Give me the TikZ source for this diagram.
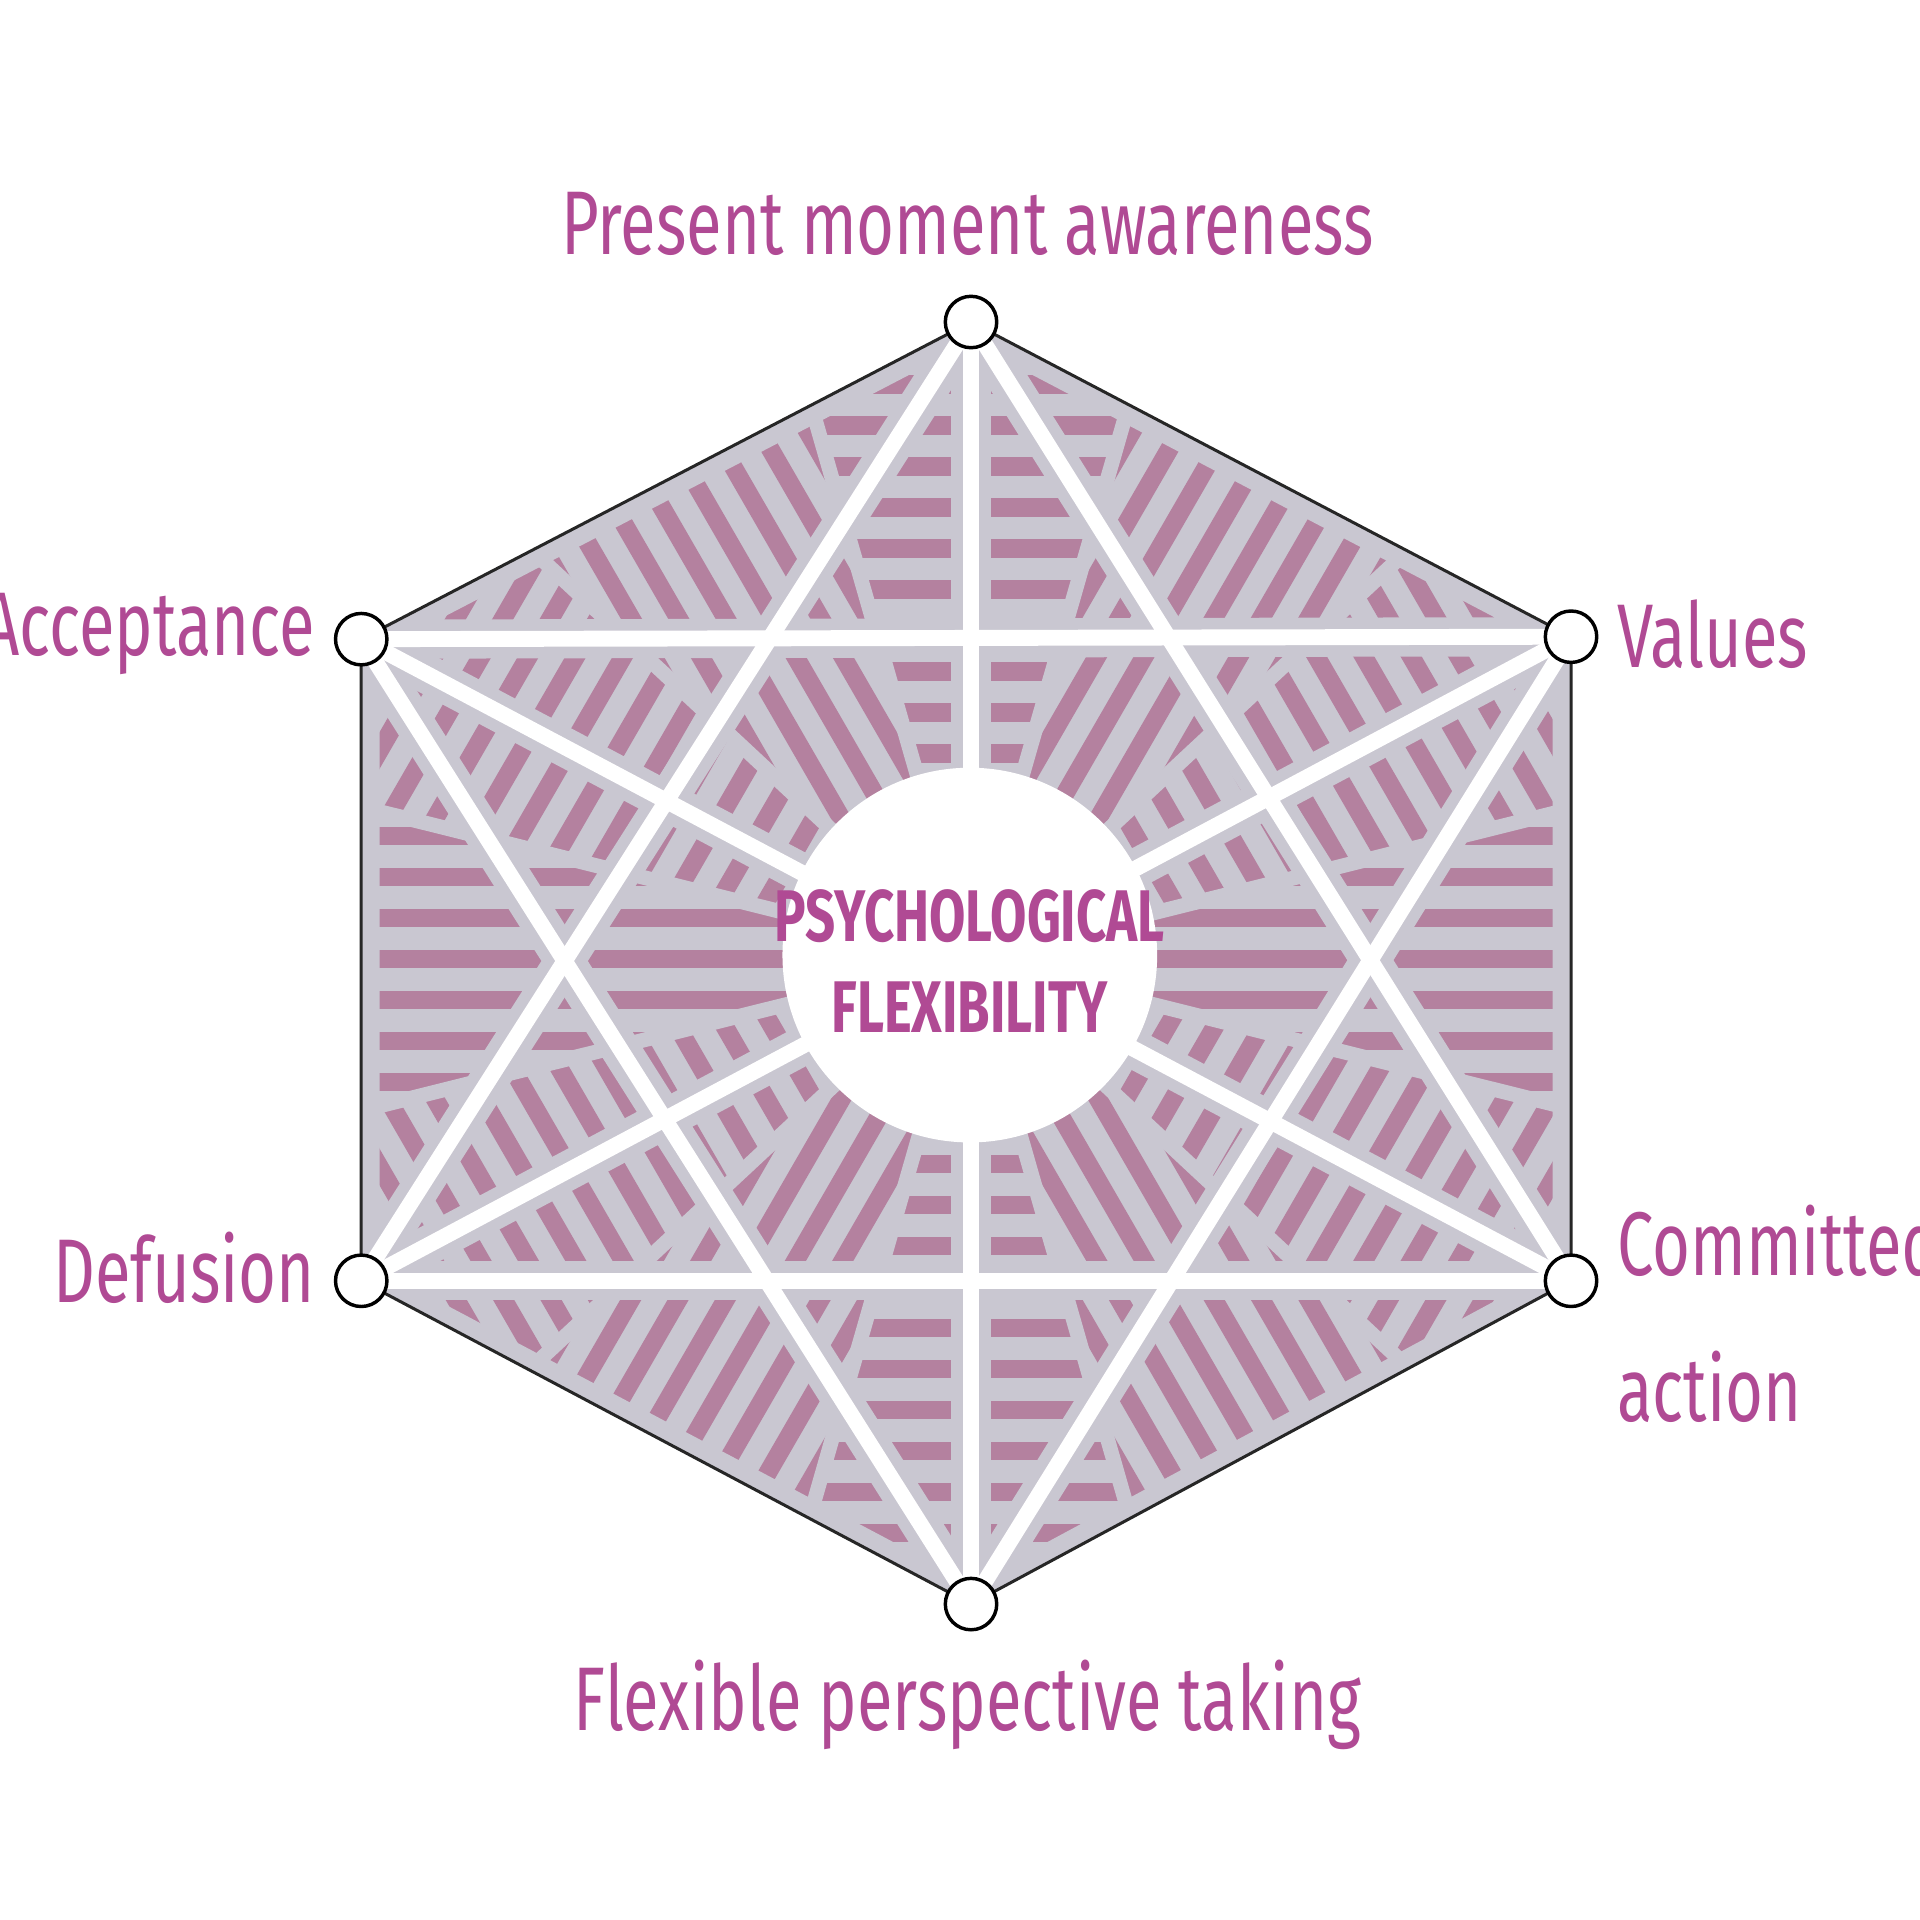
\documentclass[tikz,border=0pt]{standalone}
\usepackage{fontspec}
\setmainfont{Fira Sans}
\usepackage{graphicx}
\usetikzlibrary{calc}
\definecolor{hexgray}{HTML}{C9C7D1}
\definecolor{stripe}{HTML}{B4819F}
\definecolor{labelpink}{HTML}{B04A94}
\tikzset{
  vertexdot/.style={circle,draw=black,fill=white,line width=0.8pt,minimum size=0.42cm,inner sep=0pt},
  label text/.style={text=labelpink,font=\fontsize{21}{30}\selectfont,inner sep=0pt},
  whiteline/.style={white,line width=0.13cm,line cap=round},
  grayline/.style={hexgray,line width=0.32cm},
}
\newcommand{\lbl}[1]{\scalebox{0.72}[1]{#1}}
\begin{document}
\begin{tikzpicture}
  \useasboundingbox (0,0) rectangle (15.68,15.68);
  % hexagon corners
  \coordinate (C) at (7.92,7.85);
  \coordinate (T) at (7.93,13.05);
  \coordinate (UR) at (12.83,10.48);
  \coordinate (LR) at (12.83,5.22);
  \coordinate (B) at (7.93,2.58);
  \coordinate (LL) at (2.95,5.22);
  \coordinate (UL) at (2.95,10.46);
  \fill[hexgray] (T) -- (UR) -- (LR) -- (B) -- (LL) -- (UL) -- cycle;
  % striped wedges: start angle / end angle / stripe angle
  \foreach \a/\b/\r in {74/106/0,106/137/120,137/166/60,166/194/0,194/223/120,223/254/60,
                        254/286/0,286/317/120,317/346/60,346/374/0,14/43/120,43/74/60}{
    \begin{scope}
      \clip (T) -- (UR) -- (LR) -- (B) -- (LL) -- (UL) -- cycle;
      \clip (C) -- ($(C)+(\a:12)$) -- ($(C)+(\b:12)$) -- cycle;
      \begin{scope}[shift={(C)},rotate=\r]
        \foreach \k in {-30,...,30}
          \fill[stripe] (-12,\k*0.335-0.075) rectangle (12,\k*0.335+0.075);
      \end{scope}
    \end{scope}
  }
  % gray seams between wedges
  \begin{scope}
    \clip (T) -- (UR) -- (LR) -- (B) -- (LL) -- (UL) -- cycle;
    \foreach \a in {14,43,74,106,137,166,194,223,254,286,317,346}
      \draw[hexgray,line width=0.12cm] (C) -- ++(\a:12);
    \draw[hexgray,line width=0.3cm] (T) -- (UR) -- (LR) -- (B) -- (LL) -- (UL) -- cycle;
    % star lines
    \foreach \p/\q in {T/LL,LL/LR,LR/T,B/UL,UL/UR,UR/B,T/B,UL/LR,UR/LL}
      \draw[grayline] (\p) -- (\q);
    \foreach \p/\q in {T/LL,LL/LR,LR/T,B/UL,UL/UR,UR/B,T/B,UL/LR,UR/LL}
      \draw[whiteline] (\p) -- (\q);
  \end{scope}
  \draw[black!85,line width=0.7pt] (T) -- (UR) -- (LR) -- (B) -- (LL) -- (UL) -- cycle;
  % centre
  \node[circle,fill=white,minimum size=3.06cm,inner sep=0pt] (core) at (7.92,7.88) {};
  \node[text=labelpink,font=\fontsize{17}{22}\selectfont\bfseries,align=center] (coretext) at (7.92,7.83)
    {\scalebox{0.72}[1]{PSYCHOLOGICAL}\\[-1pt]\scalebox{0.72}[1]{FLEXIBILITY}};
  % corner dots
  \foreach \v in {T,UR,LR,B,LL,UL}
    \node[vertexdot] (dot\v) at (\v) {};
  % labels
  \node[label text] (present) at (7.90,13.85) {\lbl{Present moment awareness}};
  \node[label text,anchor=west] (values) at (13.20,10.50) {\lbl{Values}};
  \node[label text,anchor=east] (accept) at (2.58,10.50) {\lbl{Acceptance}};
  \node[label text,anchor=east] (defuse) at (2.58,5.33) {\lbl{Defusion}};
  \node[label text,anchor=west,align=left] (commit) at (13.20,4.95) {\lbl{Committed}\\[4pt]\lbl{action}};
  \node[label text] (flex) at (7.90,1.76) {\lbl{Flexible perspective taking}};
\end{tikzpicture}
\end{document}
